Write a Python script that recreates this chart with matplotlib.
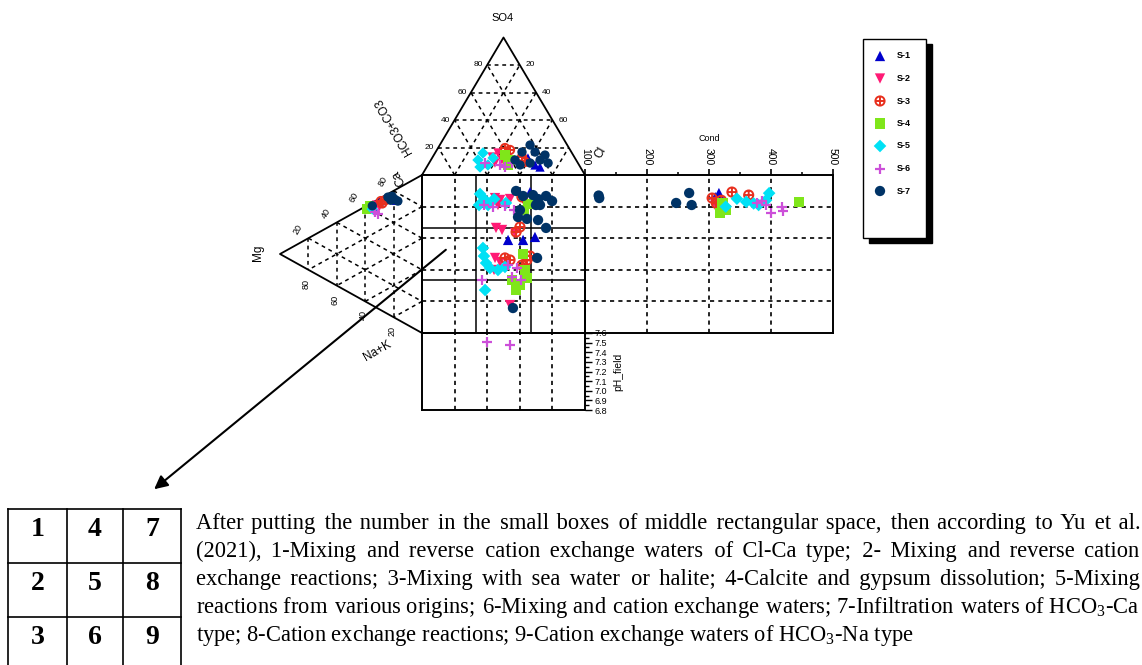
import numpy as np
import matplotlib.pyplot as plt
from matplotlib.path import Path
from matplotlib.patches import Rectangle, FancyArrowPatch
from matplotlib.font_manager import FontProperties

plt.rcParams['font.family'] = 'Liberation Sans'
plt.rcParams['mathtext.fontset'] = 'custom'
plt.rcParams['mathtext.rm'] = 'Liberation Serif'
plt.rcParams['mathtext.default'] = 'regular'

W, H = 1142, 665

series = ['S-1', 'S-2', 'S-3', 'S-4', 'S-5', 'S-6', 'S-7']
colors = ['#0000cc', '#ff1a75', '#e8301e', '#7fe61a', '#00e1f5', '#cc4fd9', '#003366']

# anion triangle: Cl %, SO4 % (rest is HCO3+CO3)
anion_cl = {
    'S-1': [65.7, 69.5, 58.8],
    'S-2': [36.4, 38.6, 43.6, 40.4],
    'S-3': [41.1, 44.9, 58.5, 54.8],
    'S-4': [43.7, 48.6, 49.1],
    'S-5': [28.9, 29.4, 36.8, 37.4, 32.7],
    'S-6': [34.3, 44.2, 50.8, 48.0],
    'S-7': [51.6, 53.0, 55.4, 61.0, 67.0, 73.0, 62.0, 56.5, 68.2],
}
anion_so4 = {
    'S-1': [7.3, 5.8, 12.4],
    'S-2': [13.1, 16.0, 10.9, 8.7],
    'S-3': [19.6, 18.2, 9.5, 13.1],
    'S-4': [14.5, 10.9, 7.3],
    'S-5': [10.9, 16.0, 7.3, 12.4, 5.8],
    'S-6': [8.7, 7.3, 8.7, 5.8],
    'S-7': [10.9, 16.7, 21.8, 16.7, 10.9, 8.7, 8.7, 7.3, 14.5],
}

# cation triangle: Mg %, Na+K % (rest is Ca)
cation_mg = {
    'S-1': [34, 18, 30],
    'S-2': [30, 32],
    'S-3': [29, 28, 26],
    'S-4': [37, 39],
    'S-5': [35],
    'S-6': [33, 31],
    'S-7': [21, 19, 24, 35, 17, 22],
}
cation_nak = {
    'S-1': [3, 7, 2],
    'S-2': [5, 3],
    'S-3': [2, 4, 3],
    'S-4': [1, 2],
    'S-5': [4],
    'S-6': [7, 9],
    'S-7': [3, 6, 2, 2, 8, 5],
}

# central square: anion index (%), cation index (%)
sq_x = {
    'S-1': [52.8, 62.0, 69.3, 66.3],
    'S-2': [44.8, 47.9, 46.6, 54.0, 45.4, 49.1, 57.1, 44.8, 47.9, 44.2, 54.0],
    'S-3': [61.3, 64.4, 57.7, 60.1, 50.9, 54.0, 64.4, 61.3, 66.3],
    'S-4': [62.6, 65.0, 62.0, 55.2, 60.1, 64.4, 57.7, 63.2],
    'S-5': [35.6, 38.7, 35.0, 44.2, 40.5, 51.5, 37.4, 38.0, 39.3, 41.7, 50.9, 38.7, 46.6],
    'S-6': [38.0, 43.6, 50.9, 56.4, 58.3, 55.2, 60.7, 36.8, 52.8],
    'S-7': [57.7, 62.0, 68.1, 71.2, 76.1, 79.8, 69.9, 58.9, 64.4, 71.2, 76.1, 70.6, 55.8, 60.1, 72.4],
}
sq_y = {
    'S-1': [41.1, 41.1, 39.2, 10.8],
    'S-2': [14.6, 15.8, 19.0, 15.2, 33.5, 34.8, 36.7, 52.5, 55.1, 60.1, 82.3],
    'S-3': [13.9, 15.8, 36.1, 32.9, 52.5, 53.8, 53.8, 57.0, 51.3],
    'S-4': [22.2, 18.4, 50.0, 66.5, 69.6, 65.2, 72.8, 60.1],
    'S-5': [12.0, 15.8, 19.0, 15.2, 19.0, 17.7, 46.2, 51.3, 55.7, 58.9, 58.2, 72.8, 60.1],
    'S-6': [19.0, 20.3, 19.6, 22.2, 58.9, 64.6, 66.5, 66.5, 57.0],
    'S-7': [10.1, 13.3, 12.7, 15.2, 13.3, 16.5, 19.0, 26.6, 27.8, 28.5, 33.5, 52.5, 84.2, 22.2, 19.0],
}

# conductivity panel
cond = {
    'S-1': [316, 310],
    'S-2': [308, 313],
    'S-3': [305, 312, 318, 320, 337, 364],
    'S-4': [322, 327, 318, 445],
    'S-5': [327, 345, 360, 372, 397, 392, 380],
    'S-6': [378, 386, 400, 418, 420, 392],
    'S-7': [123, 247, 268, 272, 122],
}
cond_y = {
    'S-1': [11.4, 14.0],
    'S-2': [17.0, 20.0],
    'S-3': [14.6, 18.0, 21.0, 16.0, 10.8, 12.7],
    'S-4': [18.0, 22.0, 24.0, 17.0],
    'S-5': [20.0, 15.0, 17.0, 18.0, 11.5, 16.0, 19.0],
    'S-6': [18.0, 16.5, 24.0, 20.0, 22.5, 19.0],
    'S-7': [14.6, 17.7, 11.4, 19.0, 13.0],
}

# pH panel
ph_x = {'S-6': [40.0, 54.0]}
ph_val = {'S-6': [7.51, 7.48]}

para_lines = [
    'After putting the number in the small boxes of middle rectangular space, then according to Yu et al.',
    '(2021), 1-Mixing and reverse cation exchange waters of Cl-Ca type; 2- Mixing and reverse cation',
    'exchange reactions; 3-Mixing with sea water or halite; 4-Calcite and gypsum dissolution; 5-Mixing',
    'reactions from various origins; 6-Mixing and cation exchange waters; 7-Infiltration waters of HCO$_3$-Ca',
    'type; 8-Cation exchange reactions; 9-Cation exchange waters of HCO$_3$-Na type',
]
box_numbers = [['1', '4', '7'], ['2', '5', '8'], ['3', '6', '9']]

# layout in pixels
SQ_L, SQ_R, SQ_T, SQ_B = 422, 585, 175, 333
COND_R = 833
PH_B = 410
TOP_APEX_Y = 37.5
LEFT_APEX_X = 280

DASH = (0, (2.5, 2.5))


def frac_rect(l, t, r, b):
    return [l / W, 1 - b / H, (r - l) / W, (b - t) / H]


def anion_xy(cl, so4):
    cl, so4 = np.asarray(cl, float), np.asarray(so4, float)
    x = SQ_L + (cl + so4 / 2) / 100 * (SQ_R - SQ_L)
    y = SQ_T - so4 / 100 * (SQ_T - TOP_APEX_Y)
    return x, y


def cation_xy(mg, nak):
    mg, nak = np.asarray(mg, float), np.asarray(nak, float)
    x = SQ_L - mg / 100 * (SQ_L - LEFT_APEX_X)
    y = SQ_T + (nak + mg / 2) / 100 * (SQ_B - SQ_T)
    return x, y


OPLUS = Path.make_compound_path(
    Path.unit_circle(),
    Path([(-1, 0), (1, 0), (0, -1), (0, 1)],
         [Path.MOVETO, Path.LINETO, Path.MOVETO, Path.LINETO]))


def plot_series(ax, x, y, i, size=50, z=5):
    if i == 2:
        ax.scatter(x, y, s=size * 0.8, marker=OPLUS, facecolors='none',
                   edgecolors=colors[i], linewidths=1.4, zorder=z, clip_on=False)
    elif i == 5:
        ax.scatter(x, y, s=size * 1.1, marker='+', c=colors[i], linewidths=1.6,
                   zorder=z, clip_on=False)
    elif i == 4:
        ax.scatter(x, y, s=size * 0.75, marker='D', c=colors[i], edgecolors='none',
                   zorder=z, clip_on=False)
    else:
        m = {0: '^', 1: 'v', 3: 's', 6: 'o'}[i]
        ax.scatter(x, y, s=size, marker=m, c=colors[i], edgecolors='none',
                   zorder=z, clip_on=False)


fig = plt.figure(figsize=(W / 100, H / 100), dpi=100)

# central square
ax_sq = fig.add_axes(frac_rect(SQ_L, SQ_T, SQ_R, SQ_B))
ax_sq.set_xlim(0, 100)
ax_sq.set_ylim(100, 0)
ax_sq.set_xticks([])
ax_sq.set_yticks([])
for v in [20, 40, 60, 80]:
    ax_sq.axvline(v, color='k', lw=1.2, ls=DASH)
    ax_sq.axhline(v, color='k', lw=1.2, ls=DASH)
for v in [100 / 3, 200 / 3]:
    ax_sq.axvline(v, color='k', lw=1.1)
    ax_sq.axhline(v, color='k', lw=1.1)

# conductivity panel
ax_cd = fig.add_axes(frac_rect(SQ_R, SQ_T, COND_R, SQ_B))
ax_cd.set_xlim(100, 500)
ax_cd.set_ylim(100, 0)
ax_cd.set_yticks([])
ax_cd.xaxis.tick_top()
ax_cd.set_xticks([100, 200, 300, 400, 500])
ax_cd.set_xticks([150, 250, 350, 450], minor=True)
ax_cd.tick_params(axis='x', which='major', direction='out', length=4, width=1.2,
                  labelsize=7.5, labelrotation=-90, pad=3)
ax_cd.tick_params(axis='x', which='minor', direction='out', length=2.5, width=1.1)
ax_cd.xaxis.set_label_position('top')
ax_cd.set_xlabel('Cond', fontsize=6.5, labelpad=5)
for v in [200, 300, 400]:
    ax_cd.axvline(v, color='k', lw=1.2, ls=DASH)
for v in [20, 40, 60, 80]:
    ax_cd.axhline(v, color='k', lw=1.2, ls=DASH)

# pH panel
ax_ph = fig.add_axes(frac_rect(SQ_L, SQ_B, SQ_R, PH_B))
ax_ph.set_xlim(0, 100)
ax_ph.set_ylim(6.8, 7.6)
ax_ph.set_xticks([])
ax_ph.yaxis.tick_right()
ax_ph.set_yticks(np.round(np.arange(6.8, 7.61, 0.1), 1))
ax_ph.set_yticks(np.round(np.arange(6.85, 7.6, 0.1), 2), minor=True)
ax_ph.yaxis.set_major_formatter(plt.FormatStrFormatter('%.1f'))
ax_ph.tick_params(axis='y', which='major', direction='out', length=5, width=1.0,
                  labelsize=6.5, pad=2)
ax_ph.tick_params(axis='y', which='minor', direction='out', length=3, width=1.0)
ax_ph.yaxis.set_label_position('right')
ax_ph.set_ylabel('pH_field', fontsize=7.5, labelpad=4)
for v in [20, 40, 60, 80]:
    ax_ph.axvline(v, color='k', lw=1.2, ls=DASH)

for ax in (ax_sq, ax_cd, ax_ph):
    ax.set_facecolor('none')
    for sp in ax.spines.values():
        sp.set_linewidth(1.4)

# overlay in pixel coordinates for triangles, legend, arrow and text
ov = fig.add_axes([0, 0, 1, 1], zorder=10)
ov.set_facecolor('none')
ov.set_xlim(0, W)
ov.set_ylim(H, 0)
ov.axis('off')

# anion triangle
tx, ty = anion_xy([0, 0, 100, 0], [0, 100, 0, 0])
ov.plot(tx, ty, color='k', lw=1.3)
for k in [20, 40, 60, 80]:
    for a, b in [((0, k), (100 - k, k)), ((k, 0), (k, 100 - k)),
                 ((100 - k, 0), (0, 100 - k))]:
        lx, ly = anion_xy([a[0], b[0]], [a[1], b[1]])
        ov.plot(lx, ly, color='k', lw=1.1, ls=DASH)
    x, y = anion_xy(0, k)
    ov.text(x - 4, y, str(k), fontsize=6, ha='right', va='center')
for k in [20, 40, 60]:
    x, y = anion_xy(k, 100 - k)
    ov.text(x + 6, y, str(k), fontsize=6, ha='left', va='center')

# cation triangle
cx, cy = cation_xy([0, 100, 0, 0], [0, 0, 100, 0])
ov.plot(cx, cy, color='k', lw=1.3)
for k in [20, 40, 60, 80]:
    for a, b in [((k, 0), (k, 100 - k)), ((0, k), (100 - k, k)),
                 ((100 - k, 0), (0, 100 - k))]:
        lx, ly = cation_xy([a[0], b[0]], [a[1], b[1]])
        ov.plot(lx, ly, color='k', lw=1.1, ls=DASH)
    x, y = cation_xy(k, 0)
    ov.text(x - 11, y - 9, str(100 - k), fontsize=6.5, ha='center', va='center', rotation=60)
    x, y = cation_xy(k, 100 - k)
    ov.text(x - 2, y + 14, str(k), fontsize=6.5, ha='center', va='center', rotation=90)

# axis names
ov.text(503, 18, 'SO4', fontsize=8, ha='center', va='center')
ov.text(601, 153, 'Cl', fontsize=8.5, ha='center', va='center', rotation=60)
ov.text(394, 126, 'HCO3+CO3', fontsize=8.5, ha='center', va='center', rotation=120)
ov.text(399, 178, 'Ca', fontsize=9, ha='center', va='center', rotation=120)
ov.text(258, 253, 'Mg', fontsize=8.5, ha='center', va='center', rotation=90)
ov.text(377, 351, 'Na+K', fontsize=8.5, ha='center', va='center', rotation=30)

# samples
for i, s in enumerate(series):
    x, y = anion_xy(anion_cl[s], anion_so4[s])
    plot_series(ov, x, y, i, size=45)
    x, y = cation_xy(cation_mg[s], cation_nak[s])
    plot_series(ov, x, y, i, size=45)
    plot_series(ax_sq, sq_x[s], sq_y[s], i, size=55)
    plot_series(ax_cd, cond[s], cond_y[s], i, size=55)
    if s in ph_x:
        plot_series(ax_ph, ph_x[s], ph_val[s], i, size=55)

# legend box with shadow
ov.add_patch(Rectangle((869, 44), 63, 199, facecolor='k', edgecolor='k', zorder=1))
ov.add_patch(Rectangle((863, 39), 63, 199, facecolor='w', edgecolor='k', lw=1.0, zorder=2))
for i, (s, ly) in enumerate(zip(series, np.linspace(56, 191, 7))):
    plot_series(ov, [880], [ly], i, size=55, z=6)
    ov.text(897, ly, s, fontsize=6.5, fontweight='bold', ha='left', va='center', zorder=6)

# arrow down to the numbered boxes
ov.add_patch(FancyArrowPatch((448, 248), (152, 491), arrowstyle='-|>',
                             mutation_scale=20, lw=1.5, color='k', zorder=7))

# numbered boxes
col_x = [8, 67, 123, 181]
row_y = [509, 563, 617, 671]
for x in col_x:
    ov.plot([x, x], [row_y[0], row_y[-1]], color='k', lw=1.2, clip_on=False)
for y in row_y[:-1]:
    ov.plot([col_x[0], col_x[-1]], [y, y], color='k', lw=1.2)
for r, row in enumerate(box_numbers):
    for c, num in enumerate(row):
        ov.text((col_x[c] + col_x[c + 1]) / 2, (row_y[r] + row_y[r + 1]) / 2 - 6, num,
                fontsize=20, fontweight='bold', family='Liberation Serif',
                ha='center', va='center')

# justified paragraph: one text per line, inter-word gaps padded with hair spaces
TX0, TX1 = 196, 1140
line_y = [524, 552, 580, 608, 636]
HAIR = '\u200a'
renderer = fig.canvas.get_renderer()


def text_w(s, fs):
    prop = FontProperties(family='Liberation Serif', size=fs)
    return renderer.get_text_width_height_descent(s, prop, ismath=('$' in s))[0]


fs = 13.5
natural = [text_w(line, fs) for line in para_lines[:-1]]
fs = fs * (TX1 - TX0) / max(natural) * 0.99
hair_w = text_w('a' + HAIR * 10 + 'a', fs) / 10 - text_w('aa', fs) / 10

for n, (line, y) in enumerate(zip(para_lines, line_y)):
    words = line.split(' ')
    if n < len(para_lines) - 1 and hair_w > 0.3:
        extra = (TX1 - TX0 - text_w(line, fs)) / hair_w
        gaps = len(words) - 1
        out, done = words[0], 0
        for g, w in enumerate(words[1:], start=1):
            want = int(round(extra * g / gaps))
            out += ' ' + HAIR * (want - done) + w
            done = want
        line = out
    ov.text(TX0, y + 5, line, fontsize=fs, family='Liberation Serif',
            ha='left', va='baseline')

fig.savefig('out.png', dpi=100)
